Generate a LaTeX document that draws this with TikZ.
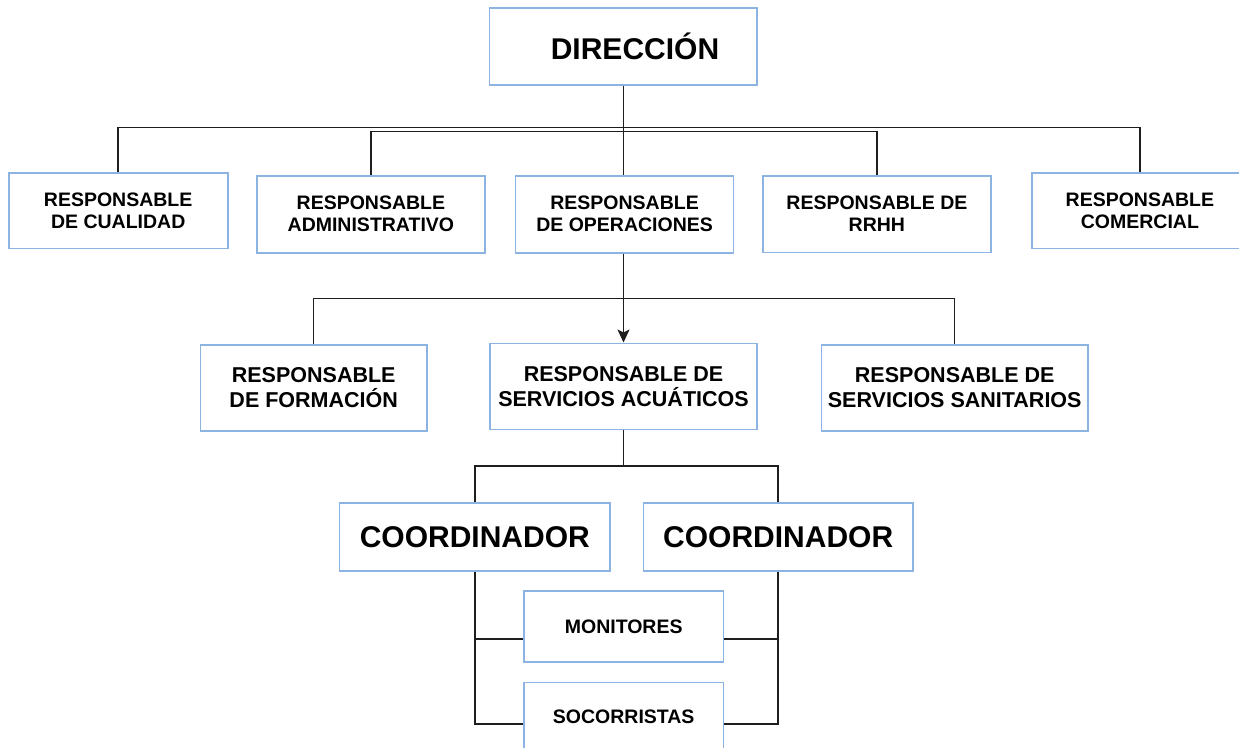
\documentclass[tikz,border=0pt]{standalone}
\usepackage{fontspec}
\setmainfont{Liberation Sans}
\usetikzlibrary{arrows.meta}
\definecolor{boxblue}{RGB}{141,179,226}
\definecolor{linec}{RGB}{30,30,30}
\begin{document}
\begin{tikzpicture}[x=1pt,y=-1pt,
  box/.style={draw=boxblue, line width=1.6pt, fill=white, inner sep=0pt, align=center},
  sz/.style 2 args={minimum width=#1pt, minimum height=#2pt},
  lone/.style={box, font=\fontsize{19.5}{22}\selectfont\bfseries},
  ltwo/.style={box, font=\fontsize{21.5}{25}\selectfont\bfseries},
  lbig/.style={box, font=\fontsize{30}{34}\selectfont\bfseries},
  conn/.style={draw=linec, line width=1.5pt}]
\useasboundingbox (0,0) rectangle (1239,747);
\fill[white] (0,0) rectangle (1239,747);

% top
\node[lbig, sz={267.5}{77}] (dir) at (623.25,46.5) {\hspace*{23.5pt}DIRECCIÓN};

% level 1
\node[lone, sz={219}{75.6}] (cual) at (118.2,210.5) {RESPONSABLE\\DE CUALIDAD};
\node[lone, sz={227.8}{77}] (adm) at (370.9,214.2) {RESPONSABLE\\ADMINISTRATIVO};
\node[lone, sz={218}{77}] (oper) at (624.6,214.2) {RESPONSABLE\\DE OPERACIONES};
\node[lone, sz={228.2}{76.6}] (rrhh) at (876.9,214) {RESPONSABLE DE\\RRHH};
\node[lone, sz={216.3}{75.6}] (com) at (1139.9,210.5) {RESPONSABLE\\COMERCIAL};

% level 2
\node[ltwo, sz={226.7}{86}] (form) at (313.7,388) {RESPONSABLE\\DE FORMACIÓN};
\node[ltwo, sz={267}{86}] (acu) at (623.5,386.3) {RESPONSABLE DE\\SERVICIOS ACUÁTICOS};
\node[ltwo, sz={266.5}{86}] (san) at (954.7,388) {RESPONSABLE DE\\SERVICIOS SANITARIOS};

% level 3
\node[lbig, sz={270.4}{68}] (c1) at (474.8,537) {COORDINADOR};
\node[lbig, sz={269.5}{68}] (c2) at (778.2,537) {COORDINADOR};

% level 4
\node[lone, sz={199.3}{71}] (mon) at (623.7,626.5) {MONITORES};
\node[lone, sz={199.3}{69.7}] (soc) at (623.7,717.2) {SOCORRISTAS};

% connectors
\coordinate (b1) at (624,127.7);
\coordinate (b2) at (624,131.7);
\coordinate (b3) at (623.5,298.7);
\coordinate (b4) at (623.5,466);
\coordinate (mw) at ([yshift=-12.5pt]mon.west);
\coordinate (me) at ([yshift=-12.5pt]mon.east);
\coordinate (sw) at ([yshift=-7pt]soc.west);
\coordinate (se) at ([yshift=-7pt]soc.east);

\draw[conn] (dir.south) -- (dir.south |- oper.north);
\draw[conn] (cual.north) |- (b1) -| (com.north);
\draw[conn] (adm.north) |- (b2) -| (rrhh.north);
\draw[conn, -{Stealth[length=13pt,width=12pt,inset=3pt]}] (acu.north |- oper.south) -- (acu.north);
\draw[conn] (form.north) |- (b3) -| (san.north);
\draw[conn] (acu.south) -- (b4);
\draw[conn] (c1.north) |- (b4) -| (c2.north);
\draw[conn] (c1.south) |- (mw);
\draw[conn] (c1.south) |- (sw);
\draw[conn] (c2.south) |- (me);
\draw[conn] (c2.south) |- (se);
\end{tikzpicture}
\end{document}
